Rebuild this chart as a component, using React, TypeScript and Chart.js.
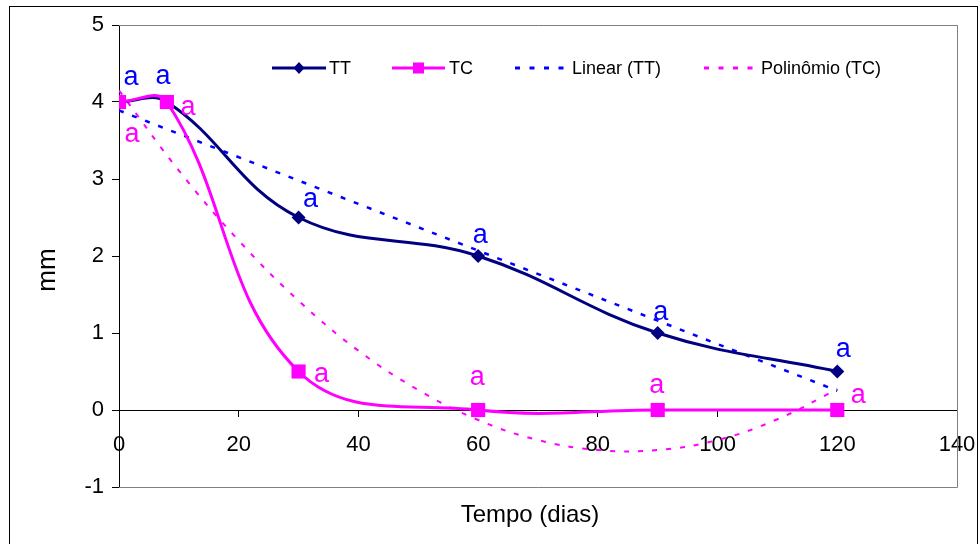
import React, { useEffect, useRef } from 'react';
import { Chart, registerables } from 'chart.js';

Chart.register(...registerables);

// ---------- data ----------
const days = [0, 8, 30, 60, 90, 120];
const ttValues = [4, 4, 2.5, 2, 1, 0.5];
const tcValues = [4, 4, 0.5, 0, 0, 0];
const linearDays = [0, 120];
const linearValues = [3.89, 0.25];
const polyDays = [0, 10, 20, 30, 40, 50, 60, 70, 80, 90, 100, 110, 120];
const polyValues = [4.15, 3.11, 2.2, 1.42, 0.77, 0.26, -0.13, -0.39, -0.52, -0.52, -0.39, -0.12, 0.27];
const ttLetters = ['a', 'a', 'a', 'a', 'a', 'a'];
const tcLetters = ['a', 'a', 'a', 'a', 'a', 'a'];
const seriesNames = ['TT', 'TC', 'Linear (TT)', 'Polinômio (TC)'];
const xTitle = 'Tempo (dias)';
const yTitle = 'mm';
const xMin = 0;
const xMax = 140;
const xStep = 20;
const yMin = -1;
const yMax = 5;
const yStep = 1;

// ---------- styles ----------
const FONT = "'Liberation Sans', Arial, Helvetica, sans-serif";
const NAVY = '#000080';
const MAGENTA = '#FF00FF';
const BLUE = '#0000FF';
const ttLetterOffsets = [[12, -25], [-4, -26], [12, -19], [2, -21], [3, -21], [6, -23]];
const tcLetterOffsets = [[13, 32], [21, 5], [23, 2], [-1, -33], [-1, -25], [21, -15]];
const legendLayout = [
  { x0: 272, x1: 326, tx: 329 },
  { x0: 392, x1: 445, tx: 449 },
  { x0: 515, x1: 565, tx: 572 },
  { x0: 704, x1: 754, tx: 761 },
];
const legendY = 68;

const pts = (xs: number[], ys: number[]) => xs.map((x, i) => ({ x, y: ys[i] }));

const decorPlugin = {
  id: 'decor',
  beforeDraw(chart: any) {
    const ctx = chart.ctx;
    ctx.save();
    ctx.fillStyle = '#fff';
    ctx.fillRect(0, 0, chart.width, chart.height);
    ctx.strokeStyle = '#000';
    ctx.lineWidth = 1;
    ctx.strokeRect(9.5, 6.5, 968, 600);
    ctx.restore();
  },
  beforeDatasetsDraw(chart: any) {
    const { ctx, chartArea: a } = chart;
    ctx.save();
    ctx.strokeStyle = '#808080';
    ctx.lineWidth = 1;
    ctx.beginPath();
    ctx.moveTo(a.left, Math.round(a.top) + 0.5);
    ctx.lineTo(Math.round(a.right) + 0.5, Math.round(a.top) + 0.5);
    ctx.lineTo(Math.round(a.right) + 0.5, Math.round(a.bottom) + 0.5);
    ctx.lineTo(a.left, Math.round(a.bottom) + 0.5);
    ctx.stroke();
    ctx.restore();
  },
  afterDatasetsDraw(chart: any) {
    const ctx = chart.ctx;
    ctx.save();
    // point letters
    chart.data.datasets.forEach((ds: any, di: number) => {
      if (!ds.letters) return;
      const meta = chart.getDatasetMeta(di);
      ctx.fillStyle = ds.letterColor;
      ctx.font = `27px ${FONT}`;
      ctx.textAlign = 'center';
      ctx.textBaseline = 'middle';
      meta.data.forEach((el: any, i: number) => {
        const [dx, dy] = ds.letterOffsets[i];
        ctx.fillText(ds.letters[i], el.x + dx, el.y + dy + 1);
      });
    });
    // legend
    chart.data.datasets.forEach((ds: any, di: number) => {
      const L = legendLayout[di];
      ctx.save();
      ctx.strokeStyle = ds.borderColor;
      ctx.lineWidth = 3;
      if (ds.borderDash && ds.borderDash.length) {
        ctx.setLineDash([5, 9.5]);
      }
      ctx.beginPath();
      ctx.moveTo(L.x0, legendY);
      ctx.lineTo(L.x1, legendY);
      ctx.stroke();
      ctx.setLineDash([]);
      const cx = (L.x0 + L.x1) / 2;
      ctx.fillStyle = ds.borderColor;
      if (ds.pointStyle === 'rectRot') {
        ctx.beginPath();
        ctx.moveTo(cx, legendY - 6);
        ctx.lineTo(cx + 5.5, legendY);
        ctx.lineTo(cx, legendY + 6);
        ctx.lineTo(cx - 5.5, legendY);
        ctx.closePath();
        ctx.fill();
      } else if (ds.pointStyle === 'rect' && ds.pointRadius > 0) {
        ctx.fillRect(cx - 5.5, legendY - 5.5, 11, 11);
      }
      ctx.fillStyle = '#000';
      ctx.font = `18px ${FONT}`;
      ctx.textAlign = 'left';
      ctx.textBaseline = 'middle';
      ctx.fillText(ds.label, L.tx, legendY + 1);
      ctx.restore();
    });
    // axis titles
    ctx.fillStyle = '#000';
    ctx.textAlign = 'center';
    ctx.textBaseline = 'middle';
    ctx.font = `24px ${FONT}`;
    ctx.fillText(xTitle, 530, 515);
    ctx.save();
    ctx.translate(48, 270);
    ctx.rotate(-Math.PI / 2);
    ctx.font = `26px ${FONT}`;
    ctx.fillText(yTitle, 0, 0);
    ctx.restore();
    ctx.restore();
  },
};

export default function App() {
  const ref = useRef<HTMLCanvasElement>(null);

  useEffect(() => {
    if (!ref.current) return;
    const chart = new Chart(ref.current, {
      type: 'line',
      data: {
        datasets: [
          {
            label: seriesNames[0],
            data: pts(days, ttValues),
            borderColor: NAVY,
            backgroundColor: NAVY,
            borderWidth: 3,
            pointStyle: 'rectRot',
            pointRadius: 7,
            pointBorderWidth: 0,
            tension: 0.4,
            order: 1,
            letters: ttLetters,
            letterOffsets: ttLetterOffsets,
            letterColor: BLUE,
          } as any,
          {
            label: seriesNames[1],
            data: pts(days, tcValues),
            borderColor: MAGENTA,
            backgroundColor: MAGENTA,
            borderWidth: 3,
            pointStyle: 'rect',
            pointRadius: 10,
            pointBorderWidth: 0,
            tension: 0.4,
            order: 0,
            letters: tcLetters,
            letterOffsets: tcLetterOffsets,
            letterColor: MAGENTA,
          } as any,
          {
            label: seriesNames[2],
            data: pts(linearDays, linearValues),
            borderColor: BLUE,
            backgroundColor: BLUE,
            borderWidth: 2.5,
            borderDash: [5, 9],
            pointRadius: 0,
            tension: 0,
            order: 2,
          } as any,
          {
            label: seriesNames[3],
            data: pts(polyDays, polyValues),
            borderColor: MAGENTA,
            backgroundColor: MAGENTA,
            borderWidth: 2,
            borderDash: [5, 9],
            pointRadius: 0,
            tension: 0.4,
            order: 3,
          } as any,
        ],
      },
      options: {
        responsive: false,
        animation: false,
        devicePixelRatio: 1,
        layout: { padding: { left: 0, right: 23, top: 25, bottom: 57 } },
        plugins: {
          legend: { display: false },
          tooltip: { enabled: false },
          title: { display: false },
        },
        scales: {
          x: {
            type: 'linear',
            position: { y: 0 } as any,
            min: xMin,
            max: xMax,
            ticks: {
              stepSize: xStep,
              color: '#000',
              font: { family: FONT, size: 22 },
              padding: 16,
              maxRotation: 0,
            },
            grid: { drawOnChartArea: false, drawTicks: true, tickLength: 6, color: '#000', lineWidth: 1 },
            border: { display: true, color: '#000', width: 1 },
            afterFit: (s: any) => {
              s.paddingLeft = 0;
              s.paddingRight = 0;
            },
          },
          y: {
            type: 'linear',
            position: 'left',
            min: yMin,
            max: yMax,
            ticks: {
              stepSize: yStep,
              color: '#000',
              font: { family: FONT, size: 22 },
              padding: 8,
            },
            grid: { drawOnChartArea: false, drawTicks: true, tickLength: 7, color: '#000', lineWidth: 1 },
            border: { display: true, color: '#000', width: 1 },
            afterFit: (s: any) => {
              s.width = 119;
              s.paddingTop = 0;
              s.paddingBottom = 0;
            },
          },
        },
      },
      plugins: [decorPlugin],
    });
    return () => chart.destroy();
  }, []);

  return (
    <div style={{ position: 'absolute', left: 0, top: 0, width: 980, height: 544, background: '#fff' }}>
      <canvas ref={ref} width={980} height={544} style={{ display: 'block' }} />
    </div>
  );
}
